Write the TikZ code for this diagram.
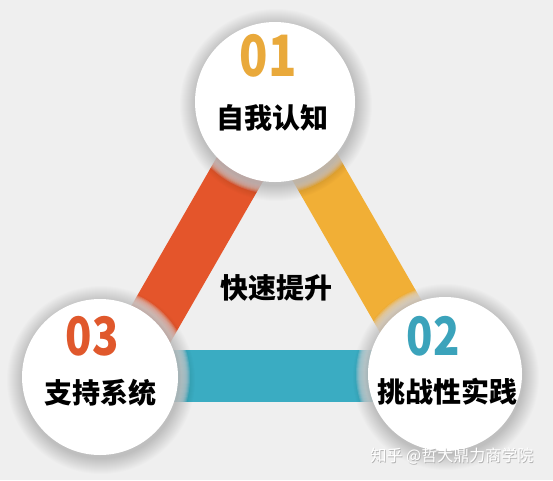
\documentclass[tikz,border=0pt]{standalone}
\usepackage{fontspec}
\newfontfamily\cjk{Noto Sans CJK SC}
\definecolor{bg}{HTML}{EFEFEF}
\definecolor{bandO}{HTML}{E4552B}
\definecolor{bandY}{HTML}{F1AF36}
\definecolor{bandB}{HTML}{3AACC2}
\definecolor{numA}{HTML}{E9A93B}
\definecolor{numB}{HTML}{3BA3BB}
\definecolor{numC}{HTML}{E0582C}
\begin{document}
\begin{tikzpicture}[x=1pt,y=-1pt,
  band/.style={line width=52pt},
  disc/.style={circle, fill=white, inner sep=0pt, minimum size=#1},
  num/.style={inner sep=0pt, xscale=0.82, font=\cjk\bfseries\fontsize{57}{62}\selectfont},
  lbl/.style={inner sep=0pt, font=\cjk\bfseries\fontsize{28}{32}\selectfont, text=black},
  wm/.style={inner sep=0pt, font=\cjk\fontsize{16}{18}\selectfont}]
\fill[bg] (0,0) rectangle (553,480);
\useasboundingbox (0,0) rectangle (553,480);
% band corner coordinates
\coordinate (A) at (278,103);
\coordinate (B) at (121,376);
\coordinate (C) at (435,376);
\draw[band, bandO] (A) -- (B);
\draw[band, bandY] (A) -- (C);
\draw[band, bandB] (B) -- (C);
% light halo and shadows
\foreach \cx/\cy/\r in {275/102/80, 100/377/78, 445/374/77}{
  \foreach \k in {4,...,12}{
    \fill[bg, opacity=0.2] (\cx,\cy) circle ({\r+\k});
  }
  \foreach \k in {1,...,16}{
    \fill[black, opacity=0.010] (\cx+1,\cy+3) circle ({\r+\k});
  }
}
% circles
\node[disc=160pt] (c1) at (275,102) {};
\node[disc=156pt] (c3) at (100,377) {};
\node[disc=154pt] (c2) at (445,374) {};
% texts
\node[num, text=numA] (n1) at (268,56) {01};
\node[lbl] (t1) at (272,118) {自我认知};
\node[num, text=numB, font=\cjk\bfseries\fontsize{53}{58}\selectfont] (n2) at (433,336) {02};
\node[lbl] (t2) at (447,392) {挑战性实践};
\node[num, text=numC, font=\cjk\bfseries\fontsize{53}{58}\selectfont] (n3) at (92,336) {03};
\node[lbl] (t3) at (100,393) {支持系统};
\node[lbl] (t0) at (276,288) {快速提升};
% watermark
\node[wm, text=black!30] (wms) at (452.7,456.7) {知乎 @哲大鼎力商学院};
\node[wm, text=white] (wmt) at (452,456) {知乎 @哲大鼎力商学院};
\end{tikzpicture}
\end{document}
